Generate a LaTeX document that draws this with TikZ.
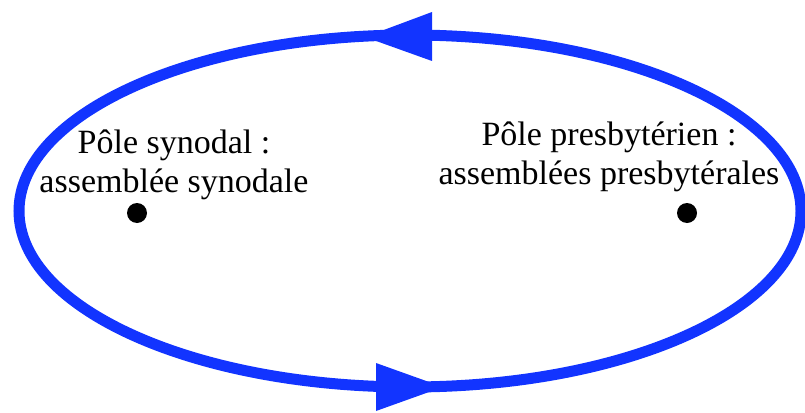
\documentclass[tikz,border=0pt]{standalone}
\usepackage{fontspec}
\setmainfont{Liberation Serif}
\definecolor{cycleblue}{RGB}{18,52,255}
\tikzset{
  cycle/.style={draw=cycleblue, line width=11pt},
  headfill/.style={fill=cycleblue},
  pole/.style={circle, fill=black, inner sep=0pt, minimum size=20pt},
  label/.style={align=center, inner sep=0pt, font=\fontsize{34pt}{39pt}\selectfont}
}
\begin{document}
\begin{tikzpicture}[x=1pt,y=-1pt]
\useasboundingbox (0,0) rectangle (805,412);
\begin{scope}
\clip (0,0) rectangle (805,412);
\draw[cycle] (410,211) ellipse [x radius=391, y radius=176];
\fill[headfill] (365,37) -- (432,12) -- (432,61) -- cycle;
\fill[headfill] (443,387) -- (376,363) -- (376,411) -- cycle;
\end{scope}
\node[pole] (syn) at (137,213) {};
\node[pole] (pres) at (687,213) {};
\node[label] (synlabel) at (174,165) {Pôle synodal :\\assemblée synodale};
\node[label] (preslabel) at (609,157) {Pôle presbytérien :\\assemblées presbytérales};
\end{tikzpicture}
\end{document}
